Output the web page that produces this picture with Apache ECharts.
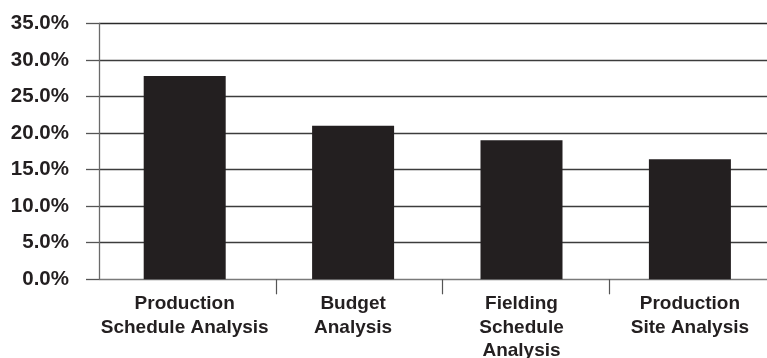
<!DOCTYPE html>
<html>
<head>
<meta charset="utf-8">
<script src="https://cdn.jsdelivr.net/npm/echarts@6/dist/echarts.min.js"></script>
<style>
html,body{margin:0;padding:0;background:#fff;}
#chart{width:767px;height:358px;}
</style>
</head>
<body>
<div id="chart"></div>
<script>
const categories = ['Production\nSchedule Analysis', 'Budget\nAnalysis', 'Fielding\nSchedule\nAnalysis', 'Production\nSite Analysis'];
const values = [27.8, 21.0, 19.0, 16.4];
const yTickLabels = ['0.0%', '5.0%', '10.0%', '15.0%', '20.0%', '25.0%', '30.0%', '35.0%'];
const yMin = 0, yMax = 35, yStep = 5;

const FONT = '"Liberation Sans", Arial, Helvetica, sans-serif';
const INK = '#231f20';
const TOP = 23.3, BOTTOM = 78.7;

const chart = echarts.init(document.getElementById('chart'), null, {renderer: 'canvas'});
chart.setOption({
  animation: false,
  backgroundColor: '#ffffff',
  grid: [
    {left: 99, right: 0, top: TOP, bottom: BOTTOM, containLabel: false, outerBoundsMode: 'none'},
    {left: 100.5, width: 673.6, top: TOP, bottom: BOTTOM, containLabel: false, outerBoundsMode: 'none'},
    {left: 276, width: 333, top: TOP, bottom: BOTTOM, containLabel: false, outerBoundsMode: 'none'}
  ],
  xAxis: [
    {gridIndex: 0, type: 'value', show: false, min: 0, max: 1},
    {
      gridIndex: 1, type: 'category', data: categories,
      axisLine: {show: false}, axisTick: {show: false},
      axisLabel: {
        margin: 13, color: INK, fontFamily: FONT, fontWeight: 'bold',
        fontSize: 19, lineHeight: 23.5, interval: 0
      }
    },
    {
      gridIndex: 2, type: 'value', min: 0, max: 2, interval: 1,
      axisLine: {show: false}, axisLabel: {show: false}, splitLine: {show: false},
      axisTick: {show: true, length: 15, lineStyle: {color: '#555', width: 1.2}}
    }
  ],
  yAxis: [
    {
      gridIndex: 0, type: 'value', min: yMin, max: yMax, interval: yStep,
      axisLine: {show: true, lineStyle: {color: '#6a6a6a', width: 1.3}},
      axisTick: {show: true, length: 13, lineStyle: {color: '#555', width: 1.3}},
      splitLine: {show: true, lineStyle: {color: ['#7a7a7a', '#3c3c3c', '#3c3c3c', '#3c3c3c', '#3c3c3c', '#3c3c3c', '#3c3c3c', '#2a2a2a'], width: 1.3}},
      axisLabel: {
        margin: 30, color: INK, fontFamily: FONT, fontWeight: 'bold', fontSize: 20.5,
        formatter: function (v) { return yTickLabels[Math.round((v - yMin) / yStep)]; }
      }
    },
    {gridIndex: 1, type: 'value', min: yMin, max: yMax, show: false},
    {gridIndex: 2, type: 'value', min: yMin, max: yMax, show: false}
  ],
  series: [
    {
      type: 'bar', xAxisIndex: 1, yAxisIndex: 1, data: values,
      barWidth: 82, itemStyle: {color: INK}, z: 5
    }
  ]
});
</script>
</body>
</html>
